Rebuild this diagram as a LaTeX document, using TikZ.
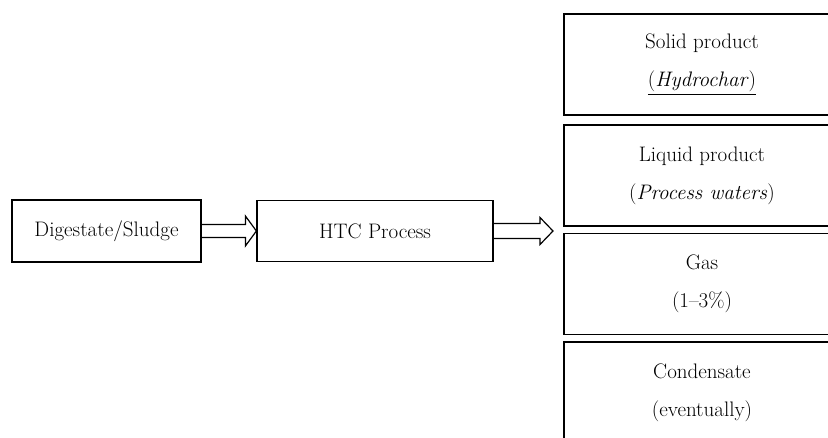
\documentclass[tikz,border=0pt]{standalone}
\usepackage{amsmath}
\usetikzlibrary{calc}

% hollow block arrow: start, tip, shaft half height, head half height, head length
\newcommand{\hollowarrow}[5]{%
	\draw[hollow] ($(#1)+(0,-#3)$) -- ($(#2)+(-#5,-#3)$) -- ($(#2)+(-#5,-#4)$) -- (#2)
		-- ($(#2)+(-#5,#4)$) -- ($(#2)+(-#5,#3)$) -- ($(#1)+(0,#3)$);}

\begin{document}
\begin{tikzpicture}[x=1pt,y=-1pt,
	box/.style={draw, line width=1.2pt, align=center, inner sep=0pt,
		font=\fontsize{21}{38}\selectfont},
	outbox/.style={box, minimum width=276pt, minimum height=101pt},
	hollow/.style={draw, line width=1.2pt, line join=miter}]
	\clip (0,0) rectangle (828,437);
	\node[box, minimum width=189pt, minimum height=62pt] (feed) at (106.5,231) {Digestate/Sludge};
	\node[box, minimum width=236pt, minimum height=61pt] (htc) at (375,231) {HTC Process};
	\node[outbox] (solid) at (702,64.5) {Solid product\\\underline{(\textit{Hydrochar})}};
	\node[outbox] (liquid) at (702,175.5) {Liquid product\\(\textit{Process waters})};
	\node[outbox] (gas) at (702,284) {Gas\\(1--3\%)};
	\node[outbox] (cond) at (702,392.5) {Condensate\\(eventually)};
	\coordinate (split) at (553,231);
	\hollowarrow{feed.east}{htc.west}{6.5}{15}{11}
	\hollowarrow{htc.east}{split}{7.5}{13.5}{13}
\end{tikzpicture}
\end{document}
